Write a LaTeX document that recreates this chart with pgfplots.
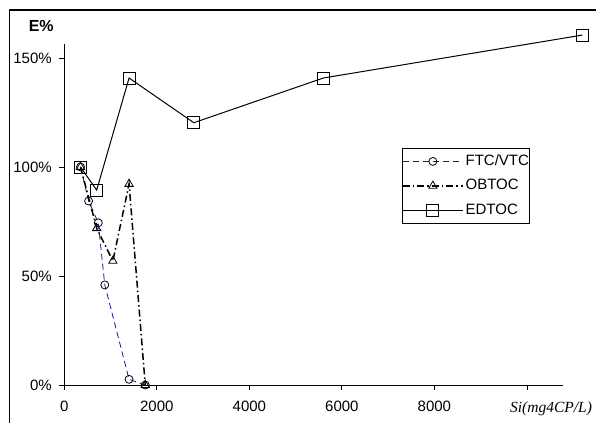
\documentclass[border=0pt]{standalone}
\usepackage{pgfplots}
\pgfplotsset{compat=1.18}
\usepackage{fontspec}
\setmainfont{Liberation Sans}
\newfontfamily\timesfont{Liberation Serif}
\definecolor{ftcblue}{RGB}{20,20,150}
\begin{document}
\begin{tikzpicture}
\path[use as bounding box] (0pt,0pt) rectangle (596pt,423pt);
\draw[line width=1.6pt] (9.5pt,0pt) -- (9.5pt,413pt) -- (596pt,413pt);
\node[font=\fontsize{16}{18}\selectfont\bfseries] at (41.2pt,397.2pt) {E\%};
\node[font=\fontsize{15.5}{18}\selectfont\timesfont\itshape] at (551pt,14pt) {Si(mg4CP/L)};
\begin{axis}[
  at={(64.3pt,38pt)}, anchor=south west,
  scale only axis, width=498.7pt, height=341pt,
  xmin=0, xmax=10780, ymin=0, ymax=156.4,
  clip=false,
  scaled x ticks=false, scaled y ticks=false,
  axis x line=bottom, axis y line=left,
  axis line style={-, line width=0.9pt},
  tick align=outside, major tick length=5pt,
  tick style={black, line width=0.8pt},
  xtick={0,2000,4000,6000,8000,10000},
  xticklabels={0,2000,4000,6000,8000,{}},
  ytick={0,50,100,150},
  yticklabels={0\%,50\%,100\%,150\%},
  tick label style={font=\fontsize{15}{18}\selectfont},
  xticklabel style={yshift=-7pt},
  yticklabel style={xshift=-4pt},
  legend style={at={(0.6766,0.695)}, anchor=north west, draw=black, line width=0.8pt,
    font=\fontsize{15}{18}\selectfont, inner xsep=0pt, inner ysep=6pt,
    nodes={inner sep=0pt, text height=11pt, text depth=3pt}, row sep=10.5pt,
    column sep=2pt},
  legend cell align=left,
  legend image code/.code={\draw[mark repeat=2,mark phase=2,#1] plot coordinates {(0pt,0pt) (30pt,0pt) (60pt,0pt)};},
]
\addplot[ftcblue, line width=0.8pt, dash pattern=on 6pt off 4pt,
  mark=o, mark size=4pt, mark options={solid, draw=black, fill=none, line width=0.8pt}]
  coordinates {(350,100) (525,84.4) (735,74.4) (875,45.9) (1400,2.6) (1750,0)};
\addlegendentry{FTC/VTC}
\addplot[black, line width=1.5pt, dash pattern=on 7pt off 3pt on 1.5pt off 3pt,
  mark=triangle, mark size=4.8pt, mark options={solid, draw=black, fill=none, line width=0.8pt}]
  coordinates {(350,100) (700,71.9) (1050,56.9) (1400,92.2) (1750,0)};
\addlegendentry{OBTOC}
\addplot[black, line width=1pt, mark=square, mark size=6pt,
  mark options={solid, draw=black, fill=none, line width=0.8pt}]
  coordinates {(350,100) (700,89.4) (1400,140.8) (2800,120.3) (5600,140.8) (11200,160.5)};
\addlegendentry{EDTOC}
\end{axis}
\end{tikzpicture}
\end{document}
